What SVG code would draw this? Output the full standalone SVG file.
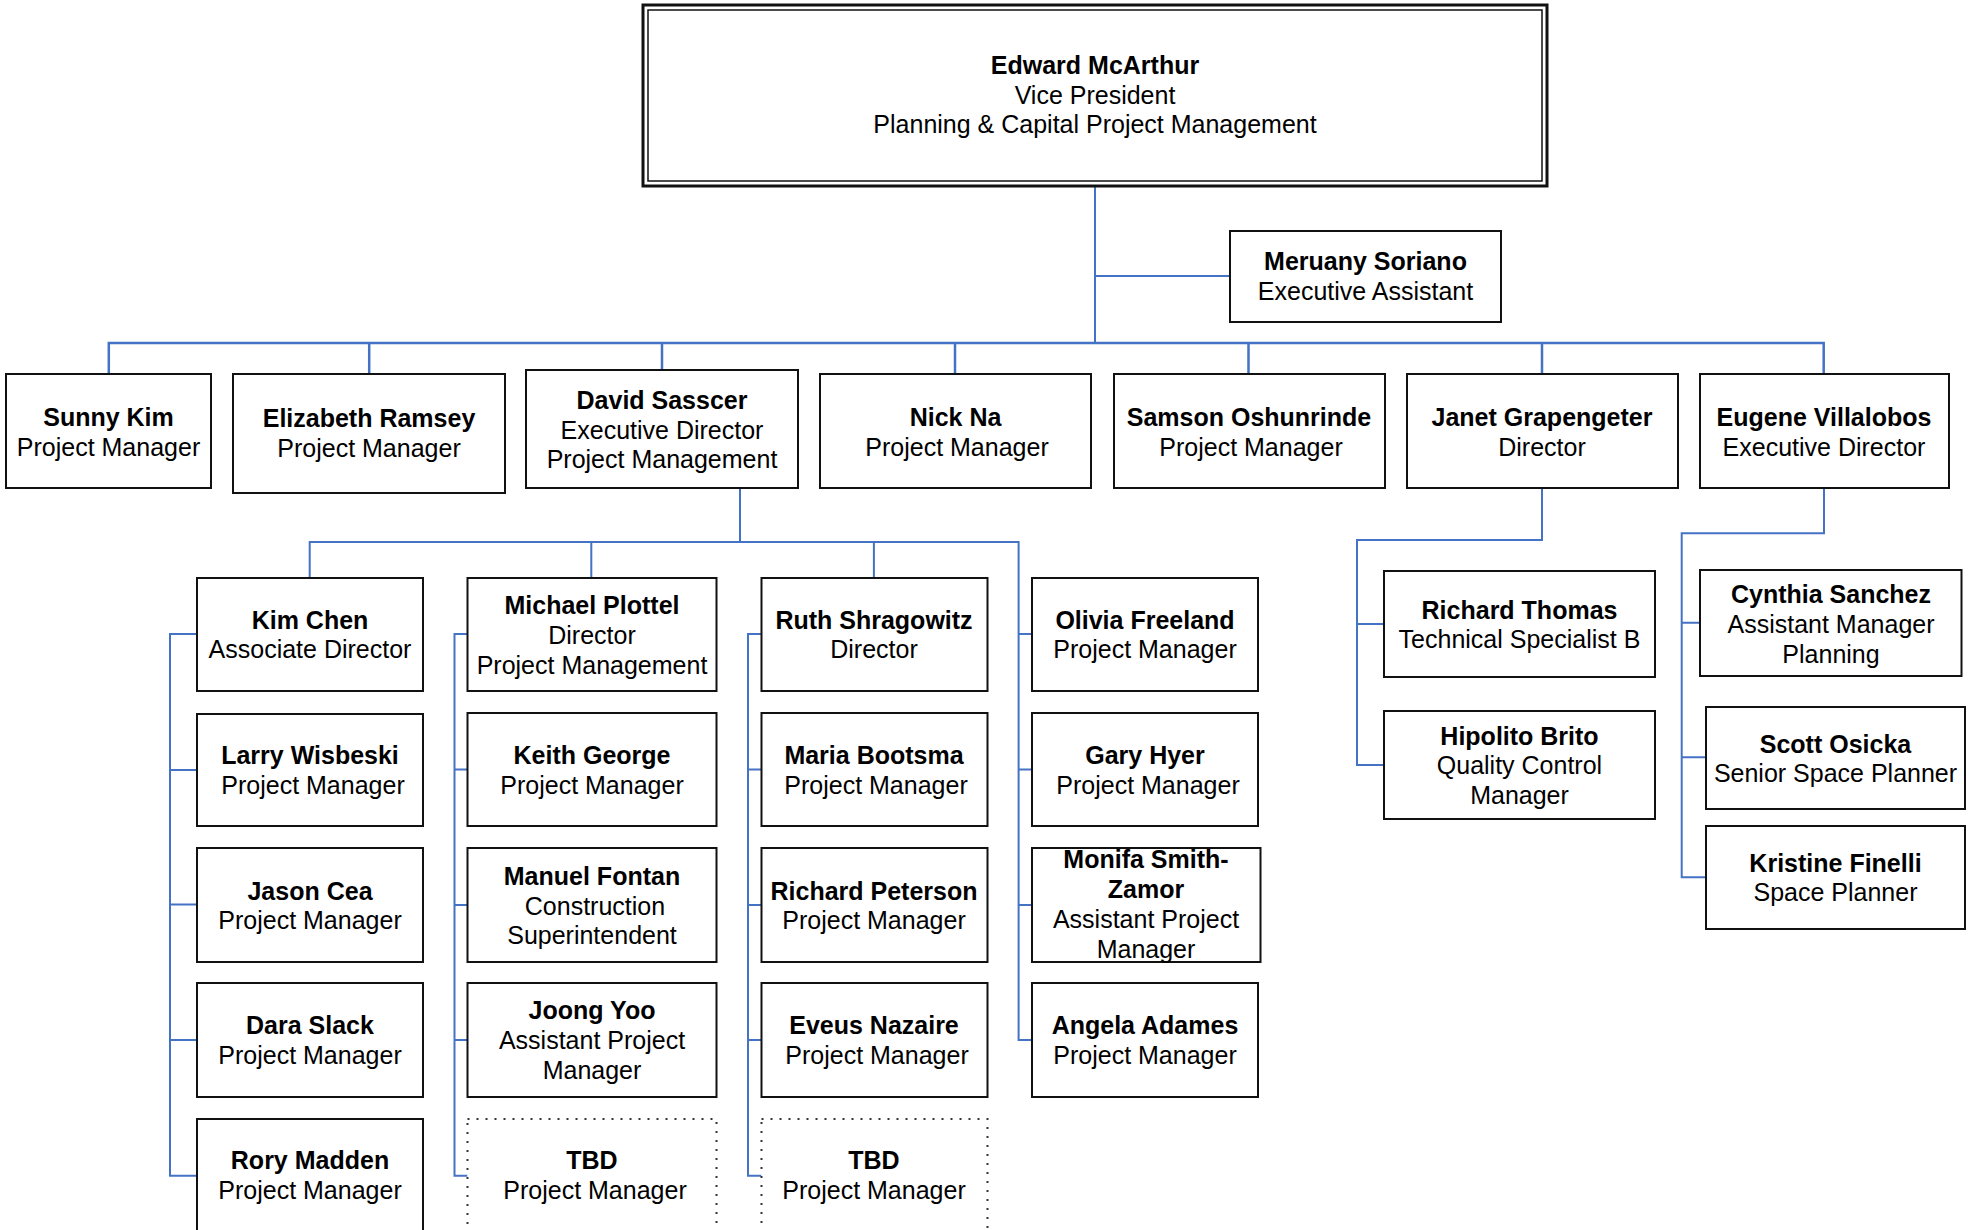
<svg xmlns="http://www.w3.org/2000/svg" width="1977" height="1230" viewBox="0 0 1977 1230">
<style>
.box{fill:#fff;stroke:#111;stroke-width:2}
.tbd{fill:#fff;stroke:#333;stroke-width:2;stroke-dasharray:2 7}
text{font-family:"Liberation Sans",Arial,sans-serif;font-size:25px;fill:#000;text-anchor:middle}
.n{font-weight:bold}
.c{fill:none;stroke:#4472C4;stroke-width:2}
.bus{fill:none;stroke:#4472C4;stroke-width:2.5}
</style>
<rect width="1977" height="1230" fill="#fff"/>
<g id="connectors">
<path class="c" d="M1095 186V343M1095 276H1230"/>
<path class="bus" d="M108.8 374V343H1823.7V374M369.2 343V374M662 343V370M955 343V374M1248.5 343V374M1542 343V374"/>
<path class="c" d="M740 488V542M309.7 578V542H1018.6V1040H1032M591.3 542V578M873.9 542V578M1018.6 634H1032M1018.6 769.5H1032M1018.6 905H1032"/>
<path class="c" d="M197 634H170V1175.7H197M170 770H197M170 904.5H197M170 1040H197"/>
<path class="c" d="M467.5 634H454.5V1175.7H467.5M454.5 769.5H467.5M454.5 905H467.5M454.5 1040H467.5"/>
<path class="c" d="M761.5 634H748V1175.7H761.5M748 769.5H761.5M748 905H761.5M748 1040H761.5"/>
<path class="c" d="M1542 488V540H1357V765H1384M1357 624H1384"/>
<path class="c" d="M1824 488V533.3H1681.7V877.3H1706M1681.7 622.7H1700M1681.7 757.3H1706"/>
</g>
<g id="edward">
<rect x="643" y="5" width="904" height="181" fill="#fff" stroke="#111" stroke-width="3"/>
<rect x="648" y="10" width="894" height="171" fill="none" stroke="#111" stroke-width="1.5"/>
<text x="1095" y="73.5" class="n">Edward McArthur</text>
<text x="1095" y="103.5">Vice President</text>
<text x="1095" y="133">Planning &amp; Capital Project Management</text>
</g>
<g id="meruany"><rect class="box" x="1230" y="231" width="271" height="91"/><text x="1365.5" y="270" class="n">Meruany Soriano</text><text x="1365.5" y="299.5">Executive Assistant</text></g>
<g id="sunny"><rect class="box" x="6" y="374" width="205" height="114"/><text x="108.5" y="425.5" class="n">Sunny Kim</text><text x="108.5" y="455.5">Project Manager</text></g>
<g id="elizabeth"><rect class="box" x="233" y="374" width="272" height="119"/><text x="369" y="427" class="n">Elizabeth Ramsey</text><text x="369" y="457">Project Manager</text></g>
<g id="david"><rect class="box" x="526" y="370" width="272" height="118"/><text x="662" y="408.5" class="n">David Sasscer</text><text x="662" y="438.5">Executive Director</text><text x="662" y="468">Project Management</text></g>
<g id="nick"><rect class="box" x="820" y="374" width="271" height="114"/><text x="955.5" y="425.5" class="n">Nick Na</text><text x="957" y="455.5">Project Manager</text></g>
<g id="samson"><rect class="box" x="1114" y="374" width="271" height="114"/><text x="1249" y="425.5" class="n">Samson Oshunrinde</text><text x="1251" y="455.5">Project Manager</text></g>
<g id="janet"><rect class="box" x="1407" y="374" width="271" height="114"/><text x="1542" y="425.5" class="n">Janet Grapengeter</text><text x="1542" y="455.5">Director</text></g>
<g id="eugene"><rect class="box" x="1700" y="374" width="249" height="114"/><text x="1824" y="425.5" class="n">Eugene Villalobos</text><text x="1824" y="455.5">Executive Director</text></g>
<g id="kim"><rect class="box" x="197" y="578" width="226" height="113"/><text x="310" y="628.5" class="n">Kim Chen</text><text x="310" y="658">Associate Director</text></g>
<g id="michael"><rect class="box" x="467.5" y="578" width="249" height="113"/><text x="592" y="613.5" class="n">Michael Plottel</text><text x="592" y="643.5">Director</text><text x="592" y="673.5">Project Management</text></g>
<g id="ruth"><rect class="box" x="761.5" y="578" width="226" height="113"/><text x="874" y="628.5" class="n">Ruth Shragowitz</text><text x="874" y="658">Director</text></g>
<g id="olivia"><rect class="box" x="1032" y="578" width="226" height="113"/><text x="1145" y="628.5" class="n">Olivia Freeland</text><text x="1145" y="658">Project Manager</text></g>
<g id="larry"><rect class="box" x="197" y="714" width="226" height="112"/><text x="310" y="764" class="n">Larry Wisbeski</text><text x="313" y="793.5">Project Manager</text></g>
<g id="keith"><rect class="box" x="467.5" y="713" width="249" height="113"/><text x="592" y="764" class="n">Keith George</text><text x="592" y="793.5">Project Manager</text></g>
<g id="maria"><rect class="box" x="761.5" y="713" width="226" height="113"/><text x="874" y="764" class="n">Maria Bootsma</text><text x="876" y="793.5">Project Manager</text></g>
<g id="gary"><rect class="box" x="1032" y="713" width="226" height="113"/><text x="1145" y="764" class="n">Gary Hyer</text><text x="1148" y="793.5">Project Manager</text></g>
<g id="jason"><rect class="box" x="197" y="848" width="226" height="114"/><text x="310" y="899.5" class="n">Jason Cea</text><text x="310" y="928.5">Project Manager</text></g>
<g id="manuel"><rect class="box" x="467.5" y="848" width="249" height="114"/><text x="592" y="884.5" class="n">Manuel Fontan</text><text x="595" y="914.5">Construction</text><text x="592" y="944">Superintendent</text></g>
<g id="richardp"><rect class="box" x="761.5" y="848" width="226" height="114"/><text x="874" y="899.5" class="n">Richard Peterson</text><text x="874" y="928.5">Project Manager</text></g>
<g id="monifa"><rect class="box" x="1032" y="848" width="228.5" height="114"/><text x="1146" y="868" class="n">Monifa Smith-</text><text x="1146" y="898" class="n">Zamor</text><text x="1146" y="928">Assistant Project</text><text x="1146" y="958">Manager</text></g>
<g id="dara"><rect class="box" x="197" y="983" width="226" height="114"/><text x="310" y="1033.5" class="n">Dara Slack</text><text x="310" y="1063.5">Project Manager</text></g>
<g id="joong"><rect class="box" x="467.5" y="983" width="249" height="114"/><text x="592" y="1018.5" class="n">Joong Yoo</text><text x="592" y="1048.5">Assistant Project</text><text x="592" y="1078.5">Manager</text></g>
<g id="eveus"><rect class="box" x="761.5" y="983" width="226" height="114"/><text x="874" y="1033.5" class="n">Eveus Nazaire</text><text x="877" y="1063.5">Project Manager</text></g>
<g id="angela"><rect class="box" x="1032" y="983" width="226" height="114"/><text x="1145" y="1033.5" class="n">Angela Adames</text><text x="1145" y="1063.5">Project Manager</text></g>
<g id="rory"><rect class="box" x="197" y="1119" width="226" height="150"/><text x="310" y="1168.5" class="n">Rory Madden</text><text x="310" y="1198.5">Project Manager</text></g>
<g id="tbd1"><rect class="tbd" x="467.5" y="1119" width="249" height="150"/><text x="592" y="1168.5" class="n">TBD</text><text x="595" y="1198.5">Project Manager</text></g>
<g id="tbd2"><rect class="tbd" x="761.5" y="1119" width="226" height="150"/><text x="874" y="1168.5" class="n">TBD</text><text x="874" y="1198.5">Project Manager</text></g>
<g id="richardt"><rect class="box" x="1384" y="571" width="271" height="106"/><text x="1519.5" y="618.5" class="n">Richard Thomas</text><text x="1519.5" y="648">Technical Specialist B</text></g>
<g id="hipolito"><rect class="box" x="1384" y="711" width="271" height="108"/><text x="1519.5" y="744.5" class="n">Hipolito Brito</text><text x="1519.5" y="774">Quality Control</text><text x="1519.5" y="804">Manager</text></g>
<g id="cynthia"><rect class="box" x="1700" y="570" width="261.5" height="106"/><text x="1831" y="602.5" class="n">Cynthia Sanchez</text><text x="1831" y="632.5">Assistant Manager</text><text x="1831" y="662.5">Planning</text></g>
<g id="scott"><rect class="box" x="1706" y="707" width="259" height="102"/><text x="1835.5" y="752.5" class="n">Scott Osicka</text><text x="1835.5" y="782">Senior Space Planner</text></g>
<g id="kristine"><rect class="box" x="1706" y="826" width="259" height="103"/><text x="1835.5" y="871.5" class="n">Kristine Finelli</text><text x="1835.5" y="900.5">Space Planner</text></g>
</svg>
